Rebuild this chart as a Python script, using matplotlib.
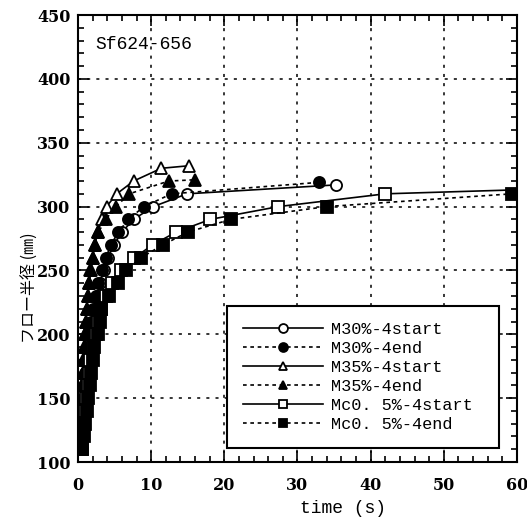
import matplotlib
matplotlib.use("Agg")
import matplotlib.pyplot as plt
from matplotlib.ticker import MultipleLocator

# --- data (time in s, flow radius in mm) ---
m30_start_t = [0.45, 0.55, 0.65, 0.75, 0.85, 1.0, 1.1, 1.3, 1.5, 1.7, 2.0, 2.3, 2.6,
               3.0, 3.5, 4.1, 4.9, 6.0, 7.6, 10.3, 14.9, 35.3]
m30_start_r = [110, 120, 130, 140, 150, 160, 170, 180, 190, 200, 210, 220, 230,
               240, 250, 260, 270, 280, 290, 300, 310, 317]

m30_end_t = [0.4, 0.5, 0.6, 0.7, 0.8, 0.9, 1.0, 1.2, 1.4, 1.6, 1.8, 2.1, 2.4,
             2.8, 3.25, 3.8, 4.5, 5.5, 6.9, 9.0, 12.8, 33.0]
m30_end_r = [110, 120, 130, 140, 150, 160, 170, 180, 190, 200, 210, 220, 230,
             240, 250, 260, 270, 280, 290, 300, 310, 319]

m35_start_t = [0.3, 0.35, 0.4, 0.45, 0.5, 0.55, 0.65, 0.75, 0.85, 0.95, 1.05, 1.2,
               1.35, 1.55, 1.75, 2.0, 2.3, 2.7, 3.3, 3.9, 5.3, 7.6, 11.4, 15.2]
m35_start_r = [110, 120, 130, 140, 150, 160, 170, 180, 190, 200, 210, 220,
               230, 240, 250, 260, 270, 280, 290, 300, 310, 320, 330, 332]

m35_end_t = [0.35, 0.4, 0.45, 0.5, 0.55, 0.6, 0.7, 0.8, 0.9, 1.0, 1.1, 1.2,
             1.35, 1.5, 1.7, 2.0, 2.35, 2.8, 3.8, 5.2, 7.0, 12.4, 16.0]
m35_end_r = [110, 120, 130, 140, 150, 160, 170, 180, 190, 200, 210, 220,
             230, 240, 250, 260, 270, 280, 290, 300, 310, 320, 321]

mc_start_t = [0.5, 0.6, 0.7, 0.9, 1.1, 1.3, 1.5, 1.7, 2.0, 2.5, 2.8, 3.1, 3.8,
              4.7, 5.9, 7.7, 10.2, 13.4, 18.1, 27.4, 42.0, 65.0]
mc_start_r = [110, 120, 130, 140, 150, 160, 170, 180, 190, 200, 210, 220, 230,
              240, 250, 260, 270, 280, 290, 300, 310, 314]

mc_end_t = [0.6, 0.8, 1.0, 1.2, 1.4, 1.6, 1.8, 2.0, 2.2, 2.8, 3.0, 3.2, 4.2,
            5.4, 6.6, 8.6, 11.6, 15.0, 20.9, 34.0, 59.3]
mc_end_r = [110, 120, 130, 140, 150, 160, 170, 180, 190, 200, 210, 220, 230,
            240, 250, 260, 270, 280, 290, 300, 310]

MONO = "Liberation Mono"
SERIF = "DejaVu Serif"
dash = (0, (2.2, 2.2))

fig = plt.figure(figsize=(5.27, 5.27), dpi=100)
ax = fig.add_axes([0.148, 0.1233, 0.833, 0.8482])

common = dict(color="black", lw=1.2, markersize=8, markeredgewidth=1.3,
              markeredgecolor="black")
ax.plot(m30_start_t, m30_start_r, "-", marker="o", mfc="white",
        label="M30%-4start", **common)
ax.plot(m30_end_t, m30_end_r, linestyle=dash, marker="o", mfc="black",
        label="M30%-4end", **common)
ax.plot(m35_start_t, m35_start_r, "-", marker="^", mfc="white",
        label="M35%-4start", **common)
ax.plot(m35_end_t, m35_end_r, linestyle=dash, marker="^", mfc="black",
        label="M35%-4end", **common)
ax.plot(mc_start_t, mc_start_r, "-", marker="s", mfc="white",
        label="Mc0. 5%-4start", **common)
ax.plot(mc_end_t, mc_end_r, linestyle=dash, marker="s", mfc="black",
        label="Mc0. 5%-4end", **common)

ax.set_xlim(0, 60)
ax.set_ylim(100, 450)
ax.xaxis.set_major_locator(MultipleLocator(10))
ax.xaxis.set_minor_locator(MultipleLocator(2))
ax.yaxis.set_major_locator(MultipleLocator(50))
ax.yaxis.set_minor_locator(MultipleLocator(10))
ax.tick_params(which="both", direction="in", top=True, right=True, width=1.2)
ax.tick_params(which="major", length=8, labelsize=11.5)
ax.tick_params(axis="x", which="major", pad=11)
ax.tick_params(axis="y", which="major", pad=5.5)
ax.tick_params(which="minor", length=4)
for lab in ax.get_xticklabels() + ax.get_yticklabels():
    lab.set_fontfamily(SERIF)
    lab.set_fontweight("bold")

ax.grid(True, which="major", color="black", lw=1.1, linestyle=(0, (2, 4)))
for s in ax.spines.values():
    s.set_linewidth(1.5)

ax.set_xlabel("time (s)", fontfamily=MONO, fontsize=13)
ax.xaxis.set_label_coords(0.604, -0.085)
ax.set_ylabel("フロー半径 (㎜)", fontfamily=["Noto Sans CJK JP", "DejaVu Sans"],
              fontsize=11.5)
ax.yaxis.set_label_coords(-0.09, 0.39)

ax.text(0.04, 0.935, "Sf624-656", transform=ax.transAxes, fontfamily=MONO,
        fontsize=13, va="center", ha="left")

leg = ax.legend(loc="lower left", bbox_to_anchor=(0.339, 0.031, 0.62, 0.3),
                mode="expand", prop={"family": MONO, "size": 12.2},
                handlelength=4.7, labelspacing=0.24, borderpad=0.95,
                handletextpad=0.5, markerscale=0.8, fancybox=False,
                framealpha=1, edgecolor="black", borderaxespad=0)
leg.get_frame().set_linewidth(1.5)

fig.savefig("out.png", dpi=100)
